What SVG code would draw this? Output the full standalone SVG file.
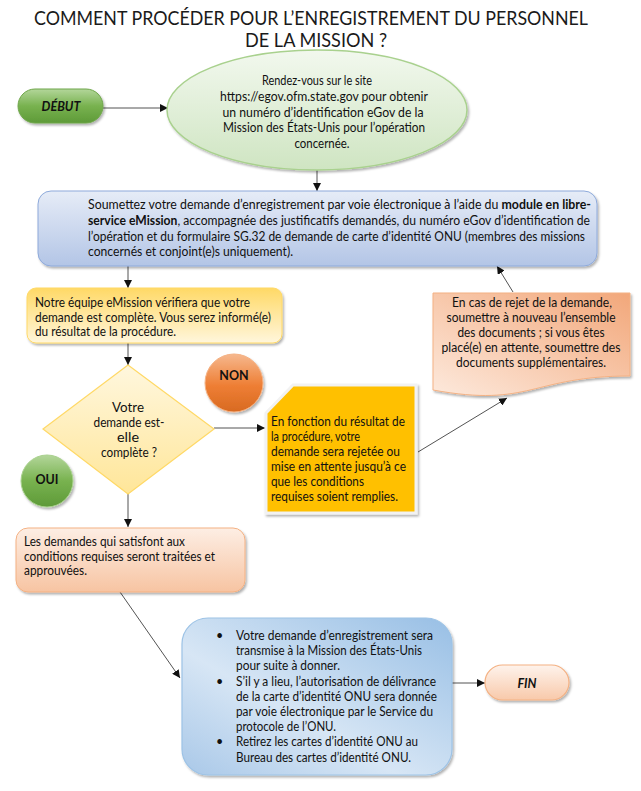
<svg xmlns="http://www.w3.org/2000/svg" width="641" height="791" viewBox="0 0 641 791">
<style>
.t{font-family:Lato,"Liberation Sans",Arial,sans-serif;font-size:12.5px;fill:#111}
.c{text-anchor:middle}
.b{font-weight:bold}
.bi{font-weight:bold;font-style:italic}
.title{font-family:Lato,"Liberation Sans",Arial,sans-serif;font-size:18.5px;fill:#1a1a1a;text-anchor:middle}
.ln{stroke:#404040;stroke-width:0.9;fill:none;marker-end:url(#ah)}
</style>
<defs>
<marker id="ah" viewBox="0 0 10 10" refX="10" refY="5" markerWidth="8" markerHeight="8" markerUnits="userSpaceOnUse" orient="auto"><path d="M0,0 L10,5 L0,10 Z" fill="#111"/></marker>
<filter id="sh" x="-10%" y="-10%" width="125%" height="130%"><feDropShadow dx="1.5" dy="2" stdDeviation="1" flood-color="#000" flood-opacity="0.3"/></filter>
<linearGradient id="gGreen" x1="0" y1="0" x2="0" y2="1"><stop offset="0" stop-color="#b3d69a"/><stop offset="0.5" stop-color="#78b24f"/><stop offset="1" stop-color="#5e9a38"/></linearGradient>
<linearGradient id="gEll" x1="0" y1="0" x2="0" y2="1"><stop offset="0" stop-color="#f2f8ee"/><stop offset="1" stop-color="#cfe5c2"/></linearGradient>
<linearGradient id="gBlue1" x1="0" y1="0" x2="0" y2="1"><stop offset="0" stop-color="#e6ecf7"/><stop offset="1" stop-color="#b3c5e6"/></linearGradient>
<linearGradient id="gYel" x1="0" y1="0" x2="0" y2="1"><stop offset="0" stop-color="#ffd966"/><stop offset="1" stop-color="#fff6dc"/></linearGradient>
<linearGradient id="gDia" x1="0" y1="0" x2="0" y2="1"><stop offset="0" stop-color="#fff7de"/><stop offset="1" stop-color="#ffe699"/></linearGradient>
<linearGradient id="gOr" x1="0" y1="0" x2="0" y2="1"><stop offset="0" stop-color="#f6b88e"/><stop offset="0.55" stop-color="#ee7e34"/><stop offset="1" stop-color="#d86a22"/></linearGradient>
<linearGradient id="gDoc" x1="1" y1="0" x2="0" y2="1"><stop offset="0" stop-color="#f2a77a"/><stop offset="1" stop-color="#fde9dc"/></linearGradient>
<linearGradient id="gSal" x1="0" y1="0" x2="0" y2="1"><stop offset="0" stop-color="#fdeee4"/><stop offset="1" stop-color="#f7c4a2"/></linearGradient>
<linearGradient id="gBlue2" x1="1" y1="0" x2="0" y2="1"><stop offset="0" stop-color="#98bfe5"/><stop offset="0.6" stop-color="#d7e6f5"/><stop offset="1" stop-color="#a9c8e8"/></linearGradient>
<linearGradient id="gFin" x1="0" y1="0" x2="0" y2="1"><stop offset="0" stop-color="#fef3ec"/><stop offset="1" stop-color="#f8c9aa"/></linearGradient>
</defs>
<rect width="641" height="791" fill="#fff"/>
<g id="title">
<text class="title" x="311" y="25" textLength="554" lengthAdjust="spacingAndGlyphs">COMMENT PROCÉDER POUR L’ENREGISTREMENT DU PERSONNEL</text>
<text class="title" x="316" y="47" textLength="142" lengthAdjust="spacingAndGlyphs">DE LA MISSION ?</text>
</g>
<g id="connectors">
<line class="ln" x1="103" y1="108" x2="168" y2="108"/>
<line class="ln" x1="317" y1="170" x2="317" y2="191"/>
<line class="ln" x1="128" y1="266" x2="128" y2="288"/>
<line class="ln" x1="128" y1="343" x2="128" y2="365"/>
<line class="ln" x1="214" y1="428" x2="265" y2="428"/>
<line class="ln" x1="418" y1="452" x2="507" y2="398"/>
<line class="ln" x1="513" y1="292" x2="497" y2="266"/>
<line class="ln" x1="128" y1="494" x2="128" y2="527"/>
<line class="ln" x1="120" y1="592" x2="180" y2="678"/>
<line class="ln" x1="452" y1="683" x2="485" y2="683"/>
</g>
<g id="debut">
<rect x="18" y="89" width="85" height="34" rx="17" fill="url(#gGreen)" stroke="#6fa64a" stroke-width="1" filter="url(#sh)"/>
<text class="t bi c" x="61" y="111">DÉBUT</text>
</g>
<g id="egov">
<ellipse cx="317" cy="110" rx="150" ry="60" fill="url(#gEll)" stroke="#a9d18e" stroke-width="1.5" filter="url(#sh)"/>
<text class="t c" x="317" y="85" textLength="110" lengthAdjust="spacingAndGlyphs">Rendez-vous sur le site</text>
<text class="t c" x="324" y="101" textLength="208" lengthAdjust="spacingAndGlyphs">https://egov.ofm.state.gov pour obtenir</text>
<text class="t c" x="323" y="116.5" textLength="201" lengthAdjust="spacingAndGlyphs">un numéro d’identification eGov de la</text>
<text class="t c" x="324" y="132" textLength="202" lengthAdjust="spacingAndGlyphs">Mission des États-Unis pour l’opération</text>
<text class="t c" x="322" y="148" textLength="55" lengthAdjust="spacingAndGlyphs">concernée.</text>
</g>
<g id="soumettez">
<rect x="38" y="191" width="559" height="75" rx="13" fill="url(#gBlue1)" stroke="#8eaadb" stroke-width="1" filter="url(#sh)"/>
<text class="t" x="88" y="209" textLength="503" lengthAdjust="spacingAndGlyphs">Soumettez votre demande d’enregistrement par voie électronique à l’aide du <tspan class="b">module en libre-</tspan></text>
<text class="t" x="88" y="225" textLength="502" lengthAdjust="spacingAndGlyphs"><tspan class="b">service eMission</tspan>, accompagnée des justificatifs demandés, du numéro eGov d’identification de</text>
<text class="t" x="88" y="240.5" textLength="497" lengthAdjust="spacingAndGlyphs">l’opération et du formulaire SG.32 de demande de carte d’identité ONU (membres des missions</text>
<text class="t" x="88" y="256" textLength="205" lengthAdjust="spacingAndGlyphs">concernés et conjoint(e)s uniquement).</text>
</g>
<g id="verif">
<rect x="27" y="288" width="255" height="55" rx="9" fill="url(#gYel)" stroke="#ffd966" stroke-width="1" filter="url(#sh)"/>
<text class="t" x="35" y="307" textLength="215" lengthAdjust="spacingAndGlyphs">Notre équipe eMission vérifiera que votre</text>
<text class="t" x="35" y="321.5" textLength="236" lengthAdjust="spacingAndGlyphs">demande est complète. Vous serez informé(e)</text>
<text class="t" x="35" y="336" textLength="141" lengthAdjust="spacingAndGlyphs">du résultat de la procédure.</text>
</g>
<g id="decision">
<polygon points="128,365 214,429 128,494 43,429" fill="url(#gDia)" stroke="#ffd966" stroke-width="1.2"/>
<text class="t c" x="128" y="412" textLength="32" lengthAdjust="spacingAndGlyphs" fill="#2a1830">Votre</text>
<text class="t c" x="129" y="427" textLength="71" lengthAdjust="spacingAndGlyphs">demande est-</text>
<text class="t c" x="128" y="442" textLength="22" lengthAdjust="spacingAndGlyphs">elle</text>
<text class="t c" x="129" y="457" textLength="56" lengthAdjust="spacingAndGlyphs">complète ?</text>
</g>
<g id="non">
<circle cx="234" cy="383" r="29" fill="url(#gOr)" stroke="#f4b183" stroke-width="1" filter="url(#sh)"/>
<text class="t b c" x="234" y="380">NON</text>
</g>
<g id="oui">
<circle cx="47" cy="481" r="26" fill="url(#gGreen)" stroke="#a9d18e" stroke-width="1" filter="url(#sh)"/>
<text class="t b c" x="47" y="484">OUI</text>
</g>
<g id="resultat">
<path d="M293,385 H416 V513 H266 V413 Z" fill="#ffc000" stroke="#f2f2f2" stroke-width="3" filter="url(#sh)"/>
<text class="t" x="271" y="426" textLength="134" lengthAdjust="spacingAndGlyphs">En fonction du résultat de</text>
<text class="t" x="271" y="441" textLength="89" lengthAdjust="spacingAndGlyphs">la procédure, votre</text>
<text class="t" x="271" y="456" textLength="129" lengthAdjust="spacingAndGlyphs">demande sera rejetée ou</text>
<text class="t" x="271" y="471" textLength="135" lengthAdjust="spacingAndGlyphs">mise en attente jusqu’à ce</text>
<text class="t" x="271" y="485.5" textLength="93" lengthAdjust="spacingAndGlyphs">que les conditions</text>
<text class="t" x="271" y="500.5" textLength="127" lengthAdjust="spacingAndGlyphs">requises soient remplies.</text>
</g>
<g id="rejet">
<path d="M433,293 H630 V376 C531,376 531,408 433,390 Z" fill="url(#gDoc)" stroke="#f4b183" stroke-width="1" filter="url(#sh)"/>
<text class="t c" x="532" y="307" textLength="160" lengthAdjust="spacingAndGlyphs">En cas de rejet de la demande,</text>
<text class="t c" x="531" y="322" textLength="169" lengthAdjust="spacingAndGlyphs">soumettre à nouveau l’ensemble</text>
<text class="t c" x="531" y="337" textLength="147" lengthAdjust="spacingAndGlyphs">des documents ; si vous êtes</text>
<text class="t c" x="531" y="352" textLength="179" lengthAdjust="spacingAndGlyphs">placé(e) en attente, soumettre des</text>
<text class="t c" x="531" y="367" textLength="150" lengthAdjust="spacingAndGlyphs">documents supplémentaires.</text>
</g>
<g id="approuve">
<rect x="16" y="528" width="229" height="64" rx="12" fill="url(#gSal)" stroke="#f4b183" stroke-width="1" filter="url(#sh)"/>
<text class="t" x="24" y="546" textLength="161" lengthAdjust="spacingAndGlyphs">Les demandes qui satisfont aux</text>
<text class="t" x="24" y="560.5" textLength="191" lengthAdjust="spacingAndGlyphs">conditions requises seront traitées et</text>
<text class="t" x="24" y="575" textLength="63" lengthAdjust="spacingAndGlyphs">approuvées.</text>
</g>
<g id="transmission">
<rect x="182" y="618" width="270" height="157" rx="26" fill="url(#gBlue2)" stroke="#9dc3e6" stroke-width="1.2" filter="url(#sh)"/>
<text class="t" x="216" y="640">•</text>
<text class="t" x="236" y="640" textLength="197" lengthAdjust="spacingAndGlyphs">Votre demande d’enregistrement sera</text>
<text class="t" x="236" y="655" textLength="186" lengthAdjust="spacingAndGlyphs">transmise à la Mission des États-Unis</text>
<text class="t" x="236" y="670" textLength="104" lengthAdjust="spacingAndGlyphs">pour suite à donner.</text>
<text class="t" x="216" y="685.5">•</text>
<text class="t" x="236" y="685.5" textLength="200" lengthAdjust="spacingAndGlyphs">S’il y a lieu, l’autorisation de délivrance</text>
<text class="t" x="236" y="701" textLength="201" lengthAdjust="spacingAndGlyphs">de la carte d’identité ONU sera donnée</text>
<text class="t" x="236" y="716" textLength="197" lengthAdjust="spacingAndGlyphs">par voie électronique par le Service du</text>
<text class="t" x="236" y="731" textLength="100" lengthAdjust="spacingAndGlyphs">protocole de l’ONU.</text>
<text class="t" x="216" y="746">•</text>
<text class="t" x="236" y="746" textLength="182" lengthAdjust="spacingAndGlyphs">Retirez les cartes d’identité ONU au</text>
<text class="t" x="236" y="762" textLength="175" lengthAdjust="spacingAndGlyphs">Bureau des cartes d’identité ONU.</text>
</g>
<g id="fin">
<rect x="485" y="665" width="84" height="35" rx="17.5" fill="url(#gFin)" stroke="#f4b183" stroke-width="1.2" filter="url(#sh)"/>
<text class="t bi c" x="527" y="687.5">FIN</text>
</g>
</svg>
